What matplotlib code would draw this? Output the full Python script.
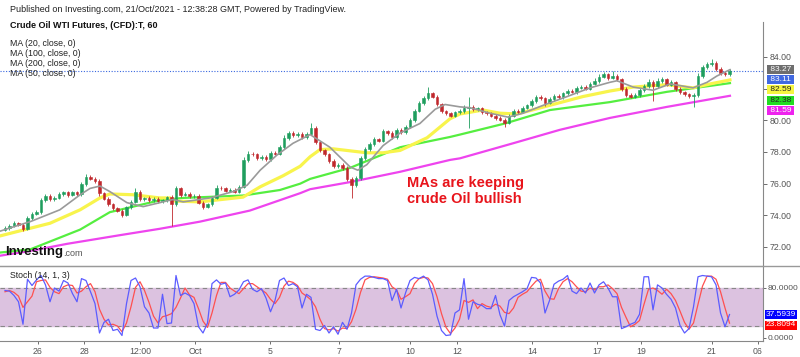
import numpy as np
import matplotlib
matplotlib.use("Agg")
import matplotlib.pyplot as plt
import matplotlib.transforms as mtransforms

plt.rcParams['font.family'] = ['Liberation Sans', 'DejaVu Sans']

# ---- hourly-ish candles (price) ----
first_open = 73.1
closes = [
    73.2, 73.35, 73.5, 73.4, 73.15, 73.8, 74.1, 74.2, 74.95, 75.25,
    75.0, 75.1, 75.35, 75.45, 75.3, 75.45, 75.35, 76.0, 76.45, 76.3,
    76.15, 75.4, 75.05, 74.7, 74.45, 74.3, 74.05, 74.5, 74.85, 75.5,
    75.0, 75.1, 74.95, 75.05, 74.9, 74.95, 75.15, 74.7, 75.7, 75.3,
    75.35, 75.2, 75.25, 74.8, 74.55, 74.7, 75.1, 75.75, 75.7, 75.55,
    75.6, 75.5, 75.8, 77.5, 77.9, 77.85, 77.6, 77.7, 77.55, 77.95,
    77.9, 78.3, 78.9, 79.2, 79.05, 79.15, 78.95, 79.15, 79.5, 78.6,
    78.1, 77.85, 77.45, 77.1, 77.2, 77.0, 76.3, 75.9, 76.35, 77.6,
    78.2, 78.5, 78.8, 78.7, 79.3, 79.2, 78.95, 79.4, 79.25, 79.6,
    80.0, 80.6, 81.1, 81.4, 81.7, 81.5, 81.0, 80.6, 80.45, 80.3,
    80.5, 80.6, 80.8, 80.85, 80.7, 80.75, 80.5, 80.45, 80.3, 80.15,
    80.05, 79.85, 80.3, 80.6, 80.55, 80.8, 80.95, 81.2, 81.45, 81.4,
    81.1, 81.35, 81.55, 81.45, 81.7, 81.85, 81.8, 82.05, 82.1, 82.0,
    82.3, 82.5, 82.75, 82.9, 82.7, 82.8, 82.6, 82.0, 81.6, 81.5,
    81.6, 81.9, 82.15, 82.45, 82.15, 82.5, 82.6, 82.25, 82.4, 82.0,
    81.8, 81.65, 81.55, 81.6, 82.8, 83.35, 83.55, 83.6, 83.25, 83.0,
    82.9, 83.11]

upper_wick = [
    .1, .08, .12, .1, .1, .15, .1, .12, .15, .1,
    .08, .1, .12, .1, .08, .1, .1, .12, .15, .1,
    .1, .12, .1, .08, .1, .1, .12, .1, .1, .25,
    .1, .08, .1, .12, .1, .08, .1, .12, .15, .1,
    .1, .12, .1, .08, .1, .1, .12, .15, .1, .08,
    .1, .12, .1, .2, .15, .1, .1, .12, .1, .1,
    .1, .15, .2, .12, .1, .1, .12, .1, .3, .15,
    .1, .12, .1, .08, .12, .1, .1, .1, .12, .15,
    .12, .1, .12, .1, .15, .12, .1, .12, .1, .12,
    .15, .12, .15, .15, .4, .12, .1, .1, .08, .1,
    .1, .12, .15, .65, .1, .1, .08, .1, .1, .08,
    .1, .1, .12, .1, .1, .12, .1, .12, .15, .12,
    .1, .12, .1, .1, .12, .1, .12, .1, .12, .1,
    .12, .15, .15, .15, .1, .3, .12, .1, .1, .1,
    .12, .15, .12, .15, .1, .15, .12, .1, .12, .1,
    .1, .08, .1, .12, .2, .15, .15, .25, .12, .1,
    .1, .12]

lower_wick = [
    .1, .1, .08, .1, .15, .1, .12, .1, .1, .12,
    .1, .12, .08, .1, .12, .1, .1, .1, .12, .1,
    .12, .15, .1, .12, .1, .12, .15, .1, .1, .1,
    .12, .1, .1, .08, .12, .1, .1, 1.4, .1, .12,
    .1, .1, .12, .1, .15, .1, .1, .1, .12, .1,
    .1, .08, .1, .1, .12, .1, .12, .1, .1, .1,
    .1, .1, .1, .12, .1, .12, .1, .1, .1, .12,
    .12, .1, .15, .1, .1, .12, .15, .8, .1, .1,
    .1, .12, .1, .1, .1, .12, .15, .1, .1, .1,
    .1, .1, .1, .12, .1, .1, .12, .15, .1, .12,
    .1, .1, .12, 1.3, .1, .12, .1, .1, .12, .1,
    .12, .25, .1, .1, .12, .1, .1, .1, .1, .12,
    .2, .1, .1, .12, .1, .1, .1, .12, .1, .1,
    .1, .1, .12, .1, .15, .1, .12, .15, .12, .1,
    .1, .12, .1, .1, .95, .1, .12, .1, .1, .12,
    .12, .1, .12, .7, .1, .1, .12, .1, .12, .15,
    .12, .1]

# ---- moving averages (knots: bar position, price) ----
ma20_x = [-1.1, 3.3, 5.6, 12.2, 16.7, 18.9, 21.1, 23.3, 27.1, 30.7, 34.4, 37.3, 39.6,
          45.6, 50.7, 53.8, 56.7, 60.4, 64.0, 67.8, 72.2, 76.7, 78.4, 80.4, 84.0, 87.8,
          92.2, 95.6, 97.8, 101.1, 103.3, 107.8, 111.8, 115.1, 119.6, 124.9, 130.0,
          134.4, 136.0, 139.6, 144.0, 147.8, 152.9, 156.0, 158.2, 161.1]
ma20_y = [73.0, 73.4, 73.6, 74.35, 75.3, 75.7, 75.85, 75.5, 74.8, 74.55, 74.8, 75.0, 74.85,
          75.1, 75.5, 75.9, 76.85, 77.8, 78.55, 79.1, 78.3, 77.05, 76.85, 77.2, 78.4, 79.2,
          79.8, 80.7, 81.0, 80.85, 80.8, 80.45, 80.2, 80.45, 80.95, 81.5, 82.05,
          82.4, 82.5, 82.1, 81.9, 82.3, 82.05, 82.4, 82.8, 83.2]

ma50_x = [-1.1, 10.0, 16.7, 21.1, 23.3, 28.4, 34.4, 36.7, 37.8, 43.3, 52.9, 56.7, 61.8,
          65.6, 67.8, 70.0, 72.9, 80.4, 84.0, 87.8, 93.8, 98.9, 101.1, 106.2, 110.0,
          113.8, 121.1, 128.4, 134.4, 139.6, 147.1, 152.9, 156.7, 161.1]
ma50_y = [72.7, 73.5, 74.35, 75.1, 75.35, 75.3, 75.1, 75.1, 74.9, 74.85, 75.15, 75.8, 76.5,
          77.1, 77.7, 78.15, 78.2, 77.95, 77.95, 78.1, 78.9, 80.1, 80.4, 80.65, 80.45,
          80.4, 80.95, 81.5, 81.85, 82.1, 82.25, 82.05, 82.3, 82.55]

ma100_x = [-1.1, 5.6, 16.7, 23.3, 34.4, 39.6, 52.9, 61.1, 65.6, 67.8, 76.7, 87.8, 98.9,
           101.1, 111.1, 121.1, 134.4, 147.1, 161.1]
ma100_y = [71.65, 71.85, 73.1, 74.2, 74.95, 75.1, 75.25, 75.6, 76.0, 76.3, 77.0, 78.3, 78.95,
           79.1, 79.8, 80.65, 81.15, 81.8, 82.35]

ma200_x = [-1.1, 5.6, 13.8, 25.6, 34.4, 43.3, 54.4, 65.6, 67.8, 76.7, 87.8, 98.9, 101.1,
           112.9, 123.3, 134.4, 147.1, 161.1]
ma200_y = [71.45, 71.75, 72.2, 72.75, 73.15, 73.6, 74.3, 75.4, 75.65, 76.1, 76.75, 77.5, 77.6,
           78.55, 79.4, 80.15, 80.85, 81.55]

# ---- stochastic (14, 1, 3) ----
stoch_k = [
    76, 75, 68, 58, 22, 94, 84, 93, 100, 85,
    58, 80, 75, 92, 88, 71, 58, 95, 92, 74,
    55, 8, 25, 30, 12, 14, 4, 55, 92, 96,
    82, 50, 40, 16, 16, 70, 23, 24, 100, 68,
    72, 68, 55, 18, 8, 24, 87, 93, 86, 88,
    66, 70, 77, 90, 93, 78, 74, 79, 64, 42,
    60, 92, 96, 84, 87, 82, 48, 70, 65, 14,
    12, 20, 8, 18, 6, 25, 14, 40, 85, 94,
    99, 99, 97, 95, 95, 92, 60, 78, 48, 72,
    92, 97, 95, 99, 93, 70, 35, 12, 4, 5,
    40, 45, 95, 30, 58, 54, 52, 47, 47, 68,
    37, 19, 60, 66, 70, 74, 79, 97, 96, 88,
    40, 60, 86, 91, 94, 100, 75, 71, 80, 72,
    88, 72, 85, 90, 80, 66, 66, 15, 18, 22,
    25, 38, 98, 98, 45, 85, 80, 70, 62, 48,
    20, 8, 15, 50, 98, 100, 99, 98, 85, 40,
    18, 37.59]

stoch_d = [
    74, 76, 73, 67, 49, 58, 67, 90, 92, 93,
    81, 74, 71, 82, 85, 84, 72, 75, 82, 87,
    74, 46, 30, 21, 22, 19, 10, 24, 50, 81,
    90, 76, 57, 35, 24, 34, 36, 39, 49, 64,
    80, 69, 65, 47, 27, 17, 40, 68, 89, 89,
    80, 75, 71, 79, 87, 87, 82, 77, 72, 62,
    55, 65, 83, 91, 89, 84, 72, 67, 61, 50,
    30, 15, 13, 15, 11, 16, 15, 26, 46, 73,
    93, 97, 98, 97, 96, 94, 82, 77, 62, 66,
    71, 87, 95, 97, 96, 87, 66, 39, 17, 7,
    16, 30, 60, 57, 61, 47, 55, 51, 49, 54,
    51, 41, 39, 48, 65, 70, 74, 83, 91, 94,
    75, 63, 62, 79, 90, 95, 90, 82, 75, 74,
    80, 77, 82, 82, 85, 79, 71, 49, 33, 18,
    22, 28, 54, 78, 80, 76, 70, 78, 71, 60,
    43, 25, 14, 24, 54, 83, 99, 99, 94, 74,
    48, 23.81]

tick_pos = [7.3, 17.6, 30.0, 42.2, 58.9, 74.2, 90.0, 100.4, 117.1, 131.6, 141.3, 157.1, 167.3]
tick_labels = ['26', '28', '12:00', 'Oct', '5', '7', '10', '12', '14', '17', '19', '21', '06']
price_ticks = [72, 74, 76, 78, 80, 82, 84]
price_tick_labels = ['72.00', '74.00', '76.00', '78.00', '80.00', '', '84.00']  # 82.00 sits under the value tags

last_labels = ['83.27', '83.11', '82.59', '82.38', '81.59']
last_label_pos = [83.2, 82.56, 81.92, 81.28, 80.64]
stoch_labels = ['37.5939', '23.8094']
stoch_label_pos = [38.4, 20.8]

UP = '#1f9e5e'
DOWN = '#c0282d'

W, H = 800, 357
fig = plt.figure(figsize=(W / 100, H / 100), dpi=100)
fig.patch.set_facecolor('white')


def fx(px):
    return px / W


def fy(py):
    return 1 - py / H


ax = fig.add_axes([0, fy(266), fx(763), (266 - 22) / H])
ax2 = fig.add_axes([0, fy(341), fx(763), (341 - 266) / H], sharex=ax)

# candles
n = len(closes)
idx = np.arange(n)
c = np.array(closes)
o = np.array([first_open] + closes[:-1])
hi = np.maximum(o, c) + np.array(upper_wick)
lo = np.minimum(o, c) - np.array(lower_wick)
cols = [UP if cc >= oo else DOWN for oo, cc in zip(o, c)]

ax.vlines(idx, lo, hi, colors=cols, linewidth=0.6, zorder=3)
ax.bar(idx, np.abs(c - o), bottom=np.minimum(o, c), width=0.58, color=cols,
       edgecolor=cols, linewidth=0.4, zorder=4)

# moving averages
ax.plot(ma200_x, ma200_y, color='#ee44ee', lw=1.6, zorder=2)
ax.plot(ma100_x, ma100_y, color='#55ee40', lw=1.6, zorder=2)
ax.plot(ma50_x, ma50_y, color='#f8f44c', lw=2.3, zorder=2)
ax.plot(ma20_x, ma20_y, color='#9a9a9a', lw=1.2, zorder=5)

ax.axhline(83.11, color='#3a68e0', lw=0.8, ls=(0, (1, 1.5)), zorder=1)

ax.set_xlim(-1.11, 168.44)
ax.set_ylim(70.80, 86.21)
ax.yaxis.tick_right()
ax.set_yticks(price_ticks)
ax.set_yticklabels(price_tick_labels)
ax.tick_params(axis='y', labelsize=6.3, colors='#555555', length=3, width=0.6, pad=2)
ax.tick_params(axis='x', bottom=False, labelbottom=False)
for s in ['left', 'top']:
    ax.spines[s].set_visible(False)
ax.spines['right'].set_color('#888888')
ax.spines['bottom'].set_visible(False)

# stochastic panel
ax2.axhspan(20, 80, color='#dcc2e0', zorder=0)
ax2.axhline(80, color='#888888', lw=0.8, ls=(0, (4, 3)))
ax2.axhline(20, color='#888888', lw=0.8, ls=(0, (4, 3)))
ax2.plot(idx, stoch_k, color='#5c5cff', lw=0.9, zorder=3)
ax2.plot(idx, stoch_d, color='#ff5050', lw=0.9, zorder=2)
ax2.set_ylim(-4.8, 115.2)
ax2.yaxis.tick_right()
ax2.set_yticks([0, 80])
ax2.set_yticklabels(['0.0000', '80.0000'])
ax2.tick_params(axis='y', labelsize=6.0, colors='#555555', length=2, width=0.6, pad=1.5)
ax2.set_xticks(tick_pos)
ax2.set_xticklabels(tick_labels)
ax2.tick_params(axis='x', labelsize=6.3, colors='#555555', length=2, width=0.6, pad=2)
ax2.spines['left'].set_visible(False)
ax2.spines['top'].set_color('#999999')
ax2.spines['right'].set_color('#888888')
ax2.spines['bottom'].set_color('#888888')

# separator line through the price scale
fig.add_artist(plt.Line2D([0, 1], [fy(266), fy(266)], color='#999999', lw=1.0))

# last value labels
tr = mtransforms.blended_transform_factory(ax.transAxes, ax.transData)
lab_style = [('#6e6e6e', 'white'), ('#4169e1', 'white'), ('#f5f542', '#222222'),
             ('#22dd22', '#222222'), ('#ee22ee', 'white')]
for txt, pos, (bg, fg) in zip(last_labels, last_label_pos, lab_style):
    ax.text(1.006, pos, f' {txt} ', transform=tr, ha='left', va='center', fontsize=6.0,
            color=fg, bbox=dict(boxstyle='square,pad=0.12', fc=bg, ec='none'),
            clip_on=False, zorder=10)
tr2 = mtransforms.blended_transform_factory(ax2.transAxes, ax2.transData)
for txt, pos, bg in zip(stoch_labels, stoch_label_pos, ['#0000ff', '#ff0000']):
    ax2.text(1.004, pos, txt, transform=tr2, ha='left', va='center', fontsize=6.0,
             color='white', bbox=dict(boxstyle='square,pad=0.12', fc=bg, ec='none'),
             clip_on=False, zorder=10)

# header texts
fig.text(fx(10), fy(10), 'Published on Investing.com, 21/Oct/2021 - 12:38:28 GMT, Powered by TradingView.',
         fontsize=6.5, color='#222222', va='center')
fig.text(fx(10), fy(26), 'Crude Oil WTI Futures, (CFD):T, 60', fontsize=6.5,
         fontweight='bold', color='#111111', va='center')
for k, t in enumerate(['MA (20, close, 0)', 'MA (100, close, 0)', 'MA (200, close, 0)', 'MA (50, close, 0)']):
    fig.text(fx(10), fy(44 + 10 * k), t, fontsize=6.3, color='#222222', va='center')
fig.text(fx(10), fy(276), 'Stoch (14, 1, 3)', fontsize=6.3, color='#222222', va='center')

# logo
fig.text(fx(5), fy(252), 'Investing', fontsize=9.5, fontweight='bold', color='#111111', va='center')
fig.text(fx(63), fy(253), '.com', fontsize=6.5, color='#555555', va='center')

# annotation
fig.text(fx(407), fy(176), 'MAs are keeping\ncrude Oil bullish', fontsize=10.5,
         fontweight='bold', color='#e8141b', va='top', ha='left', linespacing=1.15)

fig.savefig('out.png', dpi=100)
